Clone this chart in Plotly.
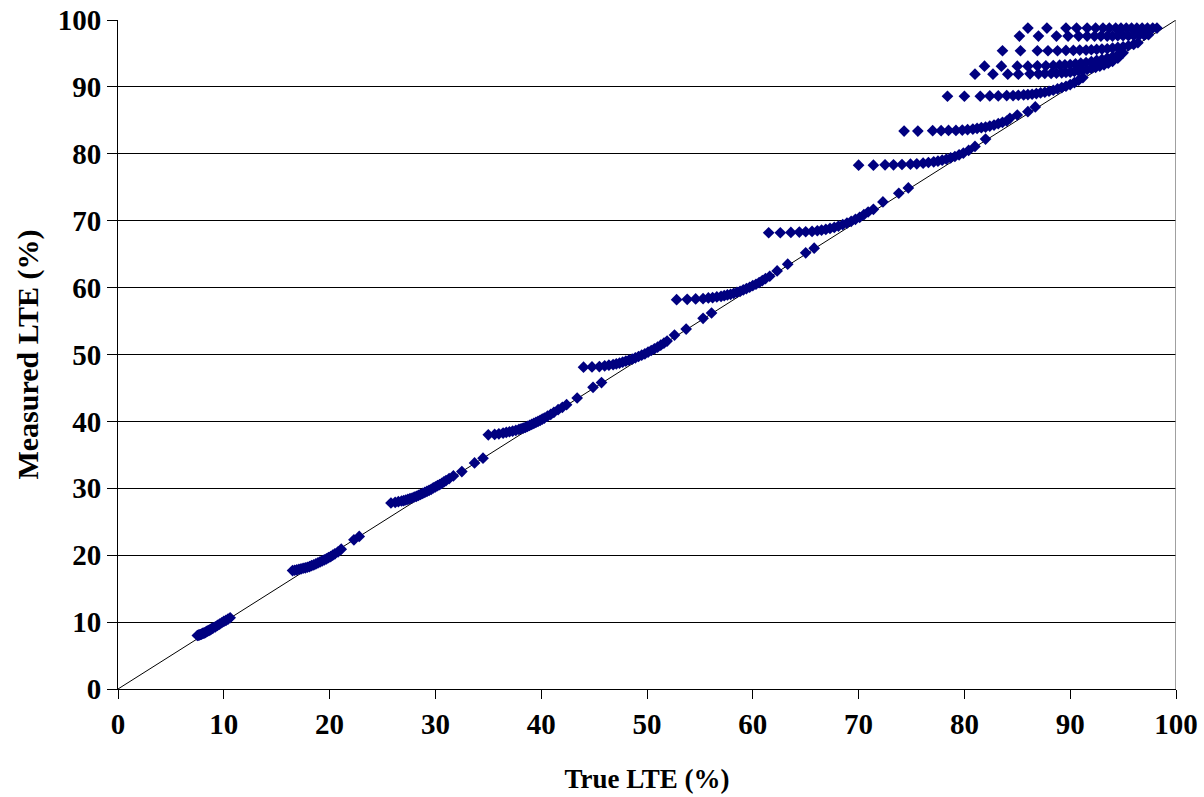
import plotly.graph_objects as go

# Branches of measured vs true LTE (%)
a_true = [7.5, 7.6, 7.7, 7.8, 7.9, 8.0, 8.1, 8.2, 8.3, 8.4, 8.5, 8.6, 8.7, 8.8, 8.9, 9.0, 9.2, 9.4, 9.6, 9.8, 10.0, 10.2, 10.4, 10.6]
a_meas = [8.0, 8.05, 8.1, 8.15, 8.2, 8.3, 8.35, 8.4, 8.5, 8.6, 8.7, 8.75, 8.85, 8.95, 9.05, 9.15, 9.3, 9.5, 9.7, 9.9, 10.1, 10.25, 10.45, 10.65]

b_true = [16.5, 16.7, 16.9, 17.1, 17.3, 17.5, 17.7, 17.9, 18.1, 18.3, 18.5, 18.7, 18.9, 19.1, 19.3, 19.5, 19.7, 19.9, 20.1, 20.3, 20.5, 20.8, 21.1, 22.3, 22.8]
b_meas = [17.7, 17.75, 17.8, 17.9, 17.95, 18.05, 18.1, 18.2, 18.3, 18.45, 18.55, 18.7, 18.85, 19.0, 19.15, 19.3, 19.45, 19.65, 19.8, 20.0, 20.2, 20.5, 20.9, 22.3, 22.8]

c_true = [25.8, 26.2, 26.5, 26.8, 27.0, 27.2, 27.4, 27.6, 27.8, 28.0, 28.2, 28.4, 28.6, 28.8, 29.0, 29.2, 29.4, 29.6, 29.8, 30.0, 30.2, 30.4, 30.6, 30.8, 31.0, 31.3, 31.7, 32.5, 33.7, 34.5]
c_meas = [27.8, 27.9, 28.0, 28.1, 28.15, 28.25, 28.35, 28.45, 28.55, 28.7, 28.8, 28.95, 29.1, 29.25, 29.4, 29.55, 29.7, 29.85, 30.05, 30.2, 30.4, 30.55, 30.75, 30.95, 31.15, 31.45, 31.85, 32.5, 33.8, 34.5]

d_true = [35.0, 35.6, 36.0, 36.4, 36.7, 37.0, 37.3, 37.6, 37.9, 38.1, 38.3, 38.5, 38.7, 38.9, 39.1, 39.3, 39.5, 39.7, 39.9, 40.1, 40.3, 40.6, 40.9, 41.2, 41.6, 42.0, 42.4, 43.4, 44.9, 45.7]
d_meas = [38.0, 38.05, 38.15, 38.25, 38.35, 38.45, 38.55, 38.65, 38.8, 38.9, 39.0, 39.1, 39.25, 39.4, 39.55, 39.7, 39.85, 40.0, 40.15, 40.35, 40.5, 40.8, 41.05, 41.35, 41.75, 42.1, 42.5, 43.5, 45.1, 45.8]

e_true = [44.0, 44.8, 45.5, 46.0, 46.4, 46.8, 47.1, 47.4, 47.7, 48.0, 48.3, 48.6, 48.9, 49.2, 49.5, 49.8, 50.1, 50.4, 50.7, 51.0, 51.3, 51.6, 51.9, 52.6, 53.7, 55.3, 56.1]
e_meas = [48.1, 48.15, 48.2, 48.3, 48.4, 48.5, 48.6, 48.7, 48.85, 49.0, 49.15, 49.3, 49.5, 49.7, 49.9, 50.1, 50.35, 50.6, 50.85, 51.1, 51.4, 51.7, 52.0, 52.9, 53.8, 55.4, 56.2]

f_true = [52.8, 53.8, 54.6, 55.3, 55.8, 56.2, 56.6, 57.0, 57.3, 57.6, 57.9, 58.2, 58.5, 58.8, 59.1, 59.4, 59.7, 60.0, 60.3, 60.6, 60.9, 61.2, 61.6, 62.3, 63.3, 65.0, 65.8]
f_meas = [58.2, 58.25, 58.3, 58.35, 58.45, 58.5, 58.6, 58.7, 58.8, 58.9, 59.0, 59.15, 59.3, 59.45, 59.65, 59.85, 60.05, 60.3, 60.5, 60.75, 61.05, 61.35, 61.7, 62.5, 63.5, 65.2, 65.9]

g_true = [61.5, 62.6, 63.6, 64.4, 65.0, 65.6, 66.1, 66.5, 66.9, 67.3, 67.7, 68.1, 68.5, 68.9, 69.3, 69.7, 70.1, 70.5, 70.9, 71.4, 72.3, 73.8, 74.7]
g_meas = [68.2, 68.2, 68.25, 68.3, 68.35, 68.4, 68.5, 68.6, 68.7, 68.85, 69.0, 69.2, 69.4, 69.65, 69.9, 70.2, 70.5, 70.9, 71.3, 71.7, 72.8, 74.1, 74.9]

h_true = [70.0, 71.4, 72.5, 73.3, 74.1, 74.9, 75.5, 76.1, 76.6, 77.1, 77.5, 77.9, 78.3, 78.7, 79.1, 79.5, 79.9, 80.4, 81.0, 82.0]
h_meas = [78.3, 78.3, 78.35, 78.35, 78.4, 78.45, 78.5, 78.6, 78.7, 78.8, 78.9, 79.05, 79.2, 79.4, 79.6, 79.85, 80.1, 80.5, 81.1, 82.2]

i_true = [74.3, 75.6, 77.0, 77.8, 78.5, 79.2, 79.8, 80.3, 80.8, 81.2, 81.6, 82.0, 82.4, 82.8, 83.2, 83.6, 84.0, 84.3, 85.0, 86.0, 86.7]
i_meas = [83.4, 83.4, 83.45, 83.45, 83.5, 83.5, 83.55, 83.6, 83.7, 83.8, 83.9, 84.0, 84.15, 84.3, 84.5, 84.7, 84.9, 85.3, 85.8, 86.3, 87.0]

j_true = [78.4, 80.0, 81.5, 82.4, 83.2, 84.0, 84.6, 85.1, 85.6, 86.0, 86.4, 86.8, 87.2, 87.6, 88.0, 88.4, 88.8, 89.2, 89.6, 90.0, 90.4, 90.8, 91.2]
j_meas = [88.6, 88.6, 88.6, 88.65, 88.65, 88.7, 88.7, 88.75, 88.8, 88.85, 88.9, 89.0, 89.1, 89.2, 89.35, 89.5, 89.7, 89.9, 90.1, 90.35, 90.65, 91.0, 91.4]

k_true = [81.0, 82.7, 84.1, 85.1, 86.2, 87.0, 87.6, 88.2, 88.7, 89.2, 89.6, 90.0, 90.4, 90.8, 91.2, 91.6, 92.0, 92.4, 92.8, 93.2, 93.6, 94.0, 94.5]
k_meas = [91.9, 91.9, 91.9, 91.9, 91.95, 91.95, 92.0, 92.0, 92.05, 92.1, 92.15, 92.2, 92.3, 92.4, 92.5, 92.6, 92.75, 92.9, 93.1, 93.3, 93.55, 93.8, 94.3]

l_true = [81.9, 83.5, 85.0, 86.0, 86.9, 87.7, 88.4, 89.0, 89.5, 90.0, 90.5, 91.0, 91.5, 92.0, 92.5, 93.0, 93.5, 94.0, 94.5, 95.0]
l_meas = [93.1, 93.1, 93.1, 93.1, 93.15, 93.15, 93.2, 93.25, 93.3, 93.35, 93.45, 93.55, 93.65, 93.8, 93.95, 94.1, 94.3, 94.5, 94.8, 95.1]

m_true = [83.6, 85.3, 86.9, 87.9, 88.8, 89.6, 90.3, 90.9, 91.5, 92.0, 92.5, 93.0, 93.5, 94.0, 94.5, 95.0, 95.5, 96.0, 96.4]
m_meas = [95.4, 95.4, 95.4, 95.4, 95.4, 95.45, 95.45, 95.5, 95.5, 95.55, 95.6, 95.65, 95.7, 95.8, 95.9, 96.0, 96.15, 96.35, 96.6]

n_true = [85.2, 87.0, 88.7, 89.8, 90.8, 91.6, 92.3, 92.9, 93.5, 94.0, 94.5, 95.0, 95.5, 96.0, 96.5, 97.0, 97.4]
n_meas = [97.6, 97.6, 97.6, 97.6, 97.6, 97.6, 97.6, 97.6, 97.6, 97.6, 97.65, 97.65, 97.65, 97.7, 97.7, 97.75, 97.8]

o_true = [86.0, 87.8, 89.6, 90.6, 91.6, 92.4, 93.1, 93.7, 94.3, 94.8, 95.3, 95.8, 96.3, 96.8, 97.3, 97.8, 98.2]
o_meas = [98.8, 98.8, 98.8, 98.8, 98.8, 98.8, 98.8, 98.8, 98.8, 98.8, 98.8, 98.8, 98.8, 98.8, 98.8, 98.8, 98.8]

# 1:1 reference line
line_x = [0, 100]
line_y = [0, 100]

tick_vals = [0, 10, 20, 30, 40, 50, 60, 70, 80, 90, 100]

true_all = (a_true + b_true + c_true + d_true + e_true + f_true + g_true + h_true
            + i_true + j_true + k_true + l_true + m_true + n_true + o_true)
meas_all = (a_meas + b_meas + c_meas + d_meas + e_meas + f_meas + g_meas + h_meas
            + i_meas + j_meas + k_meas + l_meas + m_meas + n_meas + o_meas)

FONT = "Liberation Serif, Times New Roman, serif"

fig = go.Figure()
fig.add_trace(go.Scatter(x=line_x, y=line_y, mode="lines",
                         line=dict(color="black", width=1), showlegend=False,
                         hoverinfo="skip"))
fig.add_trace(go.Scatter(x=true_all, y=meas_all, mode="markers",
                         marker=dict(symbol="diamond", size=9, color="#000080",
                                     line=dict(width=0)),
                         showlegend=False))

# right border of plot area
fig.add_shape(type="line", xref="x", yref="paper", x0=100, x1=100, y0=0, y1=1,
              line=dict(color="#808080", width=1.5))

fig.update_layout(
    width=1204, height=797,
    margin=dict(l=118, r=28, t=20, b=108),
    paper_bgcolor="white", plot_bgcolor="white",
    font=dict(family=FONT, size=26, color="black"),
    xaxis=dict(range=[0, 100], tickvals=tick_vals, showgrid=False, zeroline=False,
               automargin=False,
               showline=True, linecolor="black", linewidth=1,
               ticks="outside", ticklen=9, tickcolor="black",
               tickfont=dict(family=FONT, size=29, color="black", weight="bold"),
               title=dict(text="<b>True LTE (%)</b>", font=dict(family=FONT, size=27),
                          standoff=30)),
    yaxis=dict(range=[0, 100], tickvals=tick_vals, showgrid=True, gridcolor="black",
               gridwidth=1, zeroline=False, automargin=False,
               showline=True, linecolor="black", linewidth=1,
               ticks="outside", ticklen=10, tickcolor="black",
               tickfont=dict(family=FONT, size=29, color="black", weight="bold"),
               title=dict(text="<b>Measured LTE (%)</b>", font=dict(family=FONT, size=30),
                          standoff=10)),
)

fig.write_html("out.html")
